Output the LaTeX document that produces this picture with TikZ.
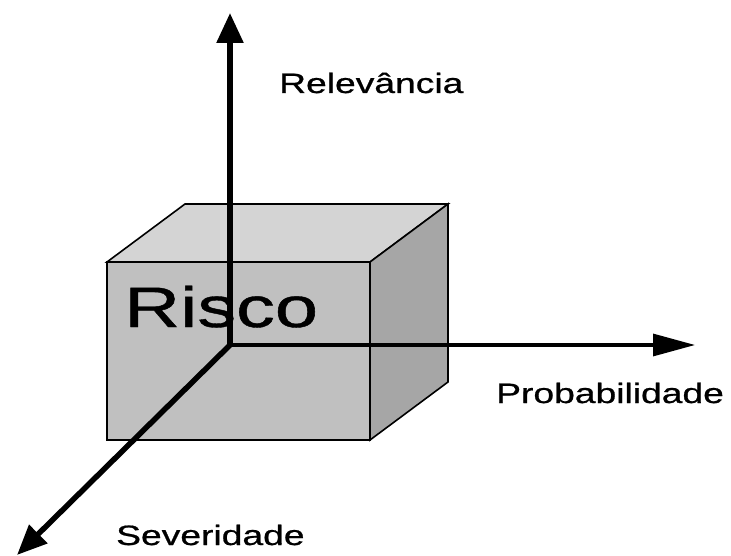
\documentclass[tikz,border=0pt]{standalone}
\usepackage{fontspec}
\setmainfont{Liberation Sans}
\newfontfamily\lblfont{Liberation Sans}[FakeBold=0.7]
\usetikzlibrary{arrows.meta}
\definecolor{frontgray}{RGB}{192,192,192}
\definecolor{topgray}{RGB}{212,212,212}
\definecolor{sidegray}{RGB}{166,166,166}
\tikzset{
  face/.style={draw=black, line width=1.6pt, line join=miter},
  axlabel/.style={anchor=base west, inner sep=0pt, font=\lblfont\fontsize{28}{30}\selectfont},
  axisthick/.style={line width=5.5pt},
  axisthin/.style={line width=3.2pt},
}
\newcommand{\wide}[1]{\scalebox{1.33}[1]{#1}}
\begin{document}
\begin{tikzpicture}[x=1pt, y=-1pt]
\useasboundingbox (0,0) rectangle (731,556);
% cube corners
\coordinate (ftl) at (107,262);
\coordinate (ftr) at (370,262);
\coordinate (fbr) at (370,440);
\coordinate (fbl) at (107,440);
\coordinate (btl) at (185,204);
\coordinate (btr) at (448,204);
\coordinate (bbr) at (448,382);
% faces
\filldraw[face, fill=topgray] (ftl) -- (btl) -- (btr) -- (ftr) -- cycle;
\filldraw[face, fill=sidegray] (ftr) -- (btr) -- (bbr) -- (fbr) -- cycle;
\filldraw[face, fill=frontgray] (ftl) -- (ftr) -- (fbr) -- (fbl) -- cycle;
% cube label
\node[anchor=base west, inner sep=0pt, font=\lblfont\fontsize{57}{60}\selectfont] (risco) at (124,327) {\scalebox{1.36}[1]{Risco}};
% axes
\coordinate (O) at (230,345);
\coordinate (rel) at (230,13);
\coordinate (prob) at (695,345);
\coordinate (sev) at (17,555);
\draw[axisthick, -{Triangle[length=30pt,width=26pt]}] (O) -- (rel);
\draw[axisthin, -{Triangle[length=42pt,width=22pt]}] (O) -- (prob);
\draw[axisthick, line cap=round, -{Triangle[length=30pt,width=25pt]}] (O) -- (sev);
% labels
\node[axlabel] (lrel) at (279,93) {\wide{Relevância}};
\node[axlabel] (lprob) at (496,403) {\wide{Probabilidade}};
\node[axlabel] (lsev) at (116,545) {\wide{Severidade}};
\end{tikzpicture}
\end{document}
